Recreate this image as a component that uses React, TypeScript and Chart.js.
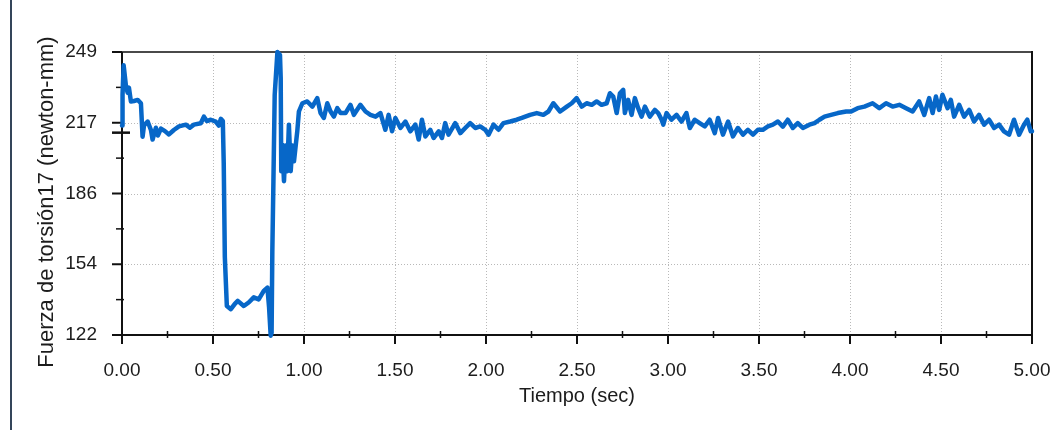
import { useEffect, useRef } from 'react';
import { Chart, registerables } from 'chart.js';

Chart.register(...registerables);

const timeSec = [
  0, 0.003, 0.009, 0.022, 0.031, 0.038, 0.049, 0.066, 0.086, 0.104,
  0.113, 0.121, 0.141, 0.159, 0.168, 0.186, 0.197, 0.214, 0.236, 0.258,
  0.285, 0.313, 0.351, 0.373, 0.395, 0.433, 0.450, 0.466, 0.488, 0.515,
  0.532, 0.543, 0.554, 0.559, 0.565, 0.576, 0.598, 0.620, 0.636, 0.669,
  0.696, 0.724, 0.751, 0.779, 0.799, 0.808, 0.817, 0.822, 0.826, 0.832,
  0.839, 0.854, 0.868, 0.872, 0.875, 0.881, 0.890, 0.899, 0.908, 0.917,
  0.927, 0.936, 0.945, 0.963, 0.972, 0.991, 1.018, 1.046, 1.073, 1.091,
  1.109, 1.128, 1.146, 1.164, 1.183, 1.201, 1.228, 1.255, 1.274, 1.310,
  1.338, 1.365, 1.393, 1.420, 1.447, 1.465, 1.484, 1.502, 1.530, 1.557,
  1.584, 1.612, 1.630, 1.648, 1.667, 1.694, 1.712, 1.740, 1.758, 1.776,
  1.794, 1.831, 1.859, 1.886, 1.913, 1.941, 1.968, 1.996, 2.014, 2.041,
  2.069, 2.096, 2.133, 2.169, 2.197, 2.242, 2.279, 2.315, 2.343, 2.370,
  2.407, 2.444, 2.471, 2.498, 2.526, 2.553, 2.581, 2.608, 2.635, 2.663,
  2.681, 2.699, 2.718, 2.736, 2.754, 2.763, 2.781, 2.800, 2.818, 2.836,
  2.855, 2.873, 2.900, 2.928, 2.946, 2.965, 2.974, 2.992, 3.019, 3.047,
  3.074, 3.101, 3.120, 3.147, 3.174, 3.202, 3.229, 3.257, 3.275, 3.302,
  3.330, 3.357, 3.384, 3.412, 3.439, 3.467, 3.494, 3.521, 3.549, 3.576,
  3.604, 3.631, 3.658, 3.686, 3.713, 3.741, 3.777, 3.805, 3.832, 3.860,
  3.896, 3.933, 3.979, 4.006, 4.042, 4.079, 4.124, 4.161, 4.198, 4.234,
  4.271, 4.308, 4.344, 4.380, 4.408, 4.435, 4.454, 4.472, 4.490, 4.508,
  4.536, 4.554, 4.572, 4.600, 4.627, 4.655, 4.682, 4.709, 4.737, 4.764,
  4.792, 4.819, 4.846, 4.874, 4.901, 4.929, 4.956, 4.974, 4.993, 5.0,
];

const torque = [
  216, 230, 243, 233.5, 230.7, 233, 226.8, 227, 227.5, 226,
  211, 216, 217.8, 214, 209.7, 215, 211.5, 214.6, 213.5, 212,
  214, 215.6, 216.4, 215, 216.4, 217, 220, 218, 218.6, 217.8,
  216, 219, 218, 199, 157, 135, 133.6, 136, 137.3, 135,
  136.6, 138.9, 138, 141.8, 143.3, 134.5, 121.7, 123, 159.7, 191,
  229.8, 249, 247.7, 237.4, 195.5, 207.4, 191, 207, 195.5, 216.4,
  195.5, 207, 200, 213.4, 222.3, 226, 226.8, 224.5, 228.3, 221.6,
  219.4, 226, 222.3, 220, 223.8, 221.6, 221.6, 225.3, 220.8, 225.3,
  222.3, 220.8, 220, 221.6, 214.1, 220.8, 213.4, 219.4, 214.9, 217.8,
  213.4, 216.4, 209.7, 218.6, 211.1, 214.1, 210.4, 213.4, 210.4, 217.1,
  211.9, 217.1, 212.6, 214.9, 217.1, 214.9, 215.6, 214.1, 211.9, 216.4,
  214.1, 217.1, 217.8, 218.6, 219.4, 220.8, 221.6, 220.8, 222.3, 226,
  222.3, 224.5, 226, 228.3, 224.5, 226, 225.3, 226.8, 225.3, 226,
  230.5, 229, 221.6, 230.5, 232, 221.6, 227.5, 220.8, 228.3, 223.8,
  220, 224.5, 220, 223, 221.6, 218.6, 216.4, 221.6, 218.6, 220.8,
  217.8, 221.6, 214.9, 218.6, 217.1, 215.6, 218.6, 212.6, 219.4, 211.9,
  217.8, 211.1, 214.9, 211.9, 214.1, 211.9, 214.1, 214.1, 215.6, 216.4,
  217.8, 215.5, 218.6, 214.9, 217.1, 214.9, 216.4, 217.1, 218.6, 220,
  220.8, 221.6, 222.3, 222.3, 223.8, 224.5, 226, 223.8, 226, 224.5,
  225.3, 223.8, 222.3, 226.8, 220.8, 228.3, 221.6, 229, 223, 229.8,
  223.8, 227.5, 220, 225.3, 220, 223, 217.8, 220.8, 216.4, 218.6,
  214.9, 216.4, 213.4, 211.9, 218.6, 211.9, 216.4, 218.6, 213.4, 213.4,
];

const xTickValues = [0, 0.5, 1, 1.5, 2, 2.5, 3, 3.5, 4, 4.5, 5];
const xMinorTicks = [0.25, 0.75, 1.25, 1.75, 2.25, 2.75, 3.25, 3.75, 4.25, 4.75];
const yTickValues = [122, 153.75, 185.5, 217.25, 249];
const yMinorTicks = [137.875, 169.625, 201.375, 233.125];
const cursorValue = 212.8;

const xTitle = 'Tiempo (sec)';
const yTitle = 'Fuerza de torsión17 (newton-mm)';

const FONT = "'Liberation Sans', Arial, sans-serif";
const TEXT_COLOR = '#1c1c1c';
const LINE_COLOR = '#0767c8';

const framePlugin = {
  id: 'frame',
  beforeDatasetsDraw(chart: any) {
    const { ctx, chartArea: a, scales } = chart;
    const x = scales.x;
    const y = scales.y;
    const seg = (x1: number, y1: number, x2: number, y2: number) => {
      ctx.beginPath();
      ctx.moveTo(x1, y1);
      ctx.lineTo(x2, y2);
      ctx.stroke();
    };
    ctx.save();
    // dotted grid
    ctx.strokeStyle = '#b9b9b9';
    ctx.lineWidth = 1;
    ctx.setLineDash([1, 2]);
    for (const v of xTickValues.slice(1, -1)) {
      const px = Math.round(x.getPixelForValue(v)) + 0.5;
      seg(px, a.top, px, a.bottom);
    }
    for (const v of yTickValues.slice(1, -1)) {
      const py = Math.round(y.getPixelForValue(v)) + 0.5;
      seg(a.left, py, a.right, py);
    }
    ctx.setLineDash([]);

    const left = x.getPixelForValue(0);
    const right = x.getPixelForValue(5);
    const top = y.getPixelForValue(249);
    const bottom = y.getPixelForValue(122);

    // top border
    ctx.strokeStyle = '#4a4a4a';
    ctx.lineWidth = 2;
    seg(left - 10, top, right + 1, top);

    ctx.strokeStyle = '#111';
    // axes
    seg(left, top, left, bottom + 9);
    seg(left - 10, bottom, right + 1, bottom);
    seg(right, top - 1, right, bottom + 9);

    // y major ticks
    for (const v of yTickValues) {
      const py = y.getPixelForValue(v);
      seg(left - 10, py, left, py);
    }
    // y minor ticks
    ctx.lineWidth = 1.5;
    for (const v of yMinorTicks) {
      const py = y.getPixelForValue(v);
      seg(left - 6, py, left + 2, py);
    }
    // x major ticks
    ctx.lineWidth = 2;
    for (const v of xTickValues) {
      const px = x.getPixelForValue(v);
      seg(px, bottom, px, bottom + 9);
    }
    // x minor ticks
    ctx.lineWidth = 1.5;
    for (const v of xMinorTicks) {
      const px = x.getPixelForValue(v);
      seg(px, bottom - 4, px, bottom + 3);
    }
    // cursor mark at left
    ctx.lineWidth = 2.5;
    const cy = y.getPixelForValue(cursorValue);
    seg(left - 10, cy, left + 8, cy);
    ctx.restore();
  },
  afterDraw(chart: any) {
    const { ctx, chartArea: a } = chart;
    ctx.save();
    ctx.fillStyle = TEXT_COLOR;
    ctx.textAlign = 'center';
    ctx.textBaseline = 'alphabetic';
    ctx.font = `20px ${FONT}`;
    ctx.fillText(xTitle, (a.left + a.right) / 2, 402);
    ctx.translate(53, 202);
    ctx.rotate(-Math.PI / 2);
    ctx.font = `22px ${FONT}`;
    ctx.fillText(yTitle, 0, 0);
    ctx.restore();
  },
};

export default function App() {
  const canvasRef = useRef<HTMLCanvasElement | null>(null);

  useEffect(() => {
    const canvas = canvasRef.current;
    if (!canvas) return;
    const points = timeSec.map((t, i) => ({ x: t, y: torque[i] }));
    const chart = new Chart(canvas, {
      type: 'line',
      data: {
        datasets: [
          {
            data: points,
            borderColor: LINE_COLOR,
            borderWidth: 4.5,
            pointRadius: 0,
            tension: 0,
            clip: false,
            borderJoinStyle: 'round',
            borderCapStyle: 'round',
          } as any,
        ],
      },
      options: {
        animation: false,
        responsive: false,
        devicePixelRatio: 1,
        layout: { padding: { left: 0, right: 31, top: 52, bottom: 0 } },
        plugins: {
          legend: { display: false },
          tooltip: { enabled: false },
        },
        scales: {
          x: {
            type: 'linear',
            min: 0,
            max: 5,
            grid: { display: false, drawTicks: false },
            border: { display: false },
            afterBuildTicks: (s: any) => {
              s.ticks = xTickValues.map((v) => ({ value: v }));
            },
            afterFit: (s: any) => {
              s.height = 95;
              s.paddingLeft = 0;
              s.paddingRight = 0;
            },
            ticks: {
              padding: 24,
              maxRotation: 0,
              autoSkip: false,
              color: TEXT_COLOR,
              font: { family: FONT, size: 19 },
              callback: (v: any) => Number(v).toFixed(2),
            },
          },
          y: {
            type: 'linear',
            min: 122,
            max: 249,
            grid: { display: false, drawTicks: false },
            border: { display: false },
            afterBuildTicks: (s: any) => {
              s.ticks = yTickValues.map((v) => ({ value: v }));
            },
            afterFit: (s: any) => {
              s.width = 122;
              s.paddingTop = 0;
              s.paddingBottom = 0;
            },
            ticks: {
              padding: 25,
              autoSkip: false,
              color: TEXT_COLOR,
              font: { family: FONT, size: 19 },
              callback: (v: any) => String(Math.round(Number(v))),
            },
          },
        },
      },
      plugins: [framePlugin],
    });
    return () => chart.destroy();
  }, []);

  return (
    <div
      style={{
        position: 'fixed',
        left: 0,
        top: 0,
        width: 1063,
        height: 430,
        background: '#ffffff',
        overflow: 'hidden',
      }}
    >
      <div
        style={{
          position: 'absolute',
          left: 10,
          top: 0,
          width: 2,
          height: 430,
          background: '#34455a',
        }}
      />
      <canvas
        ref={canvasRef}
        width={1063}
        height={430}
        style={{ position: 'absolute', left: 0, top: 0, width: 1063, height: 430 }}
      />
    </div>
  );
}
